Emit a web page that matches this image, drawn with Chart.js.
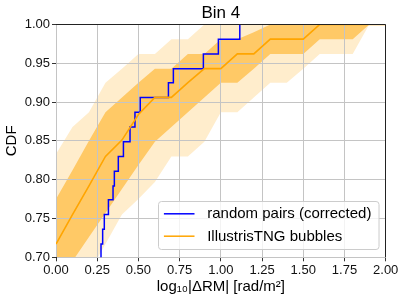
<!DOCTYPE html>
<html>
<head>
<meta charset="utf-8">
<script src="https://cdn.jsdelivr.net/npm/chart.js@4.4.1/dist/chart.umd.min.js"></script>
<style>
  html, body { margin: 0; padding: 0; background: #fff; }
  canvas { display: block; }
</style>
</head>
<body>
<canvas id="cdfChart" width="405" height="302"></canvas>
<script>
// log10|dRM| grid that the IllustrisTNG CDF bands are sampled on
const logRM = [0.0, 0.1, 0.2, 0.3, 0.4, 0.5, 0.6, 0.7, 0.8, 0.9, 1.0,
               1.1, 1.2, 1.3, 1.4, 1.5, 1.6, 1.7, 1.8, 1.9, 2.0];
const tngMedian    = [0.717, 0.755, 0.792, 0.830, 0.851, 0.884, 0.906, 0.906, 0.925, 0.943, 0.943,
                      0.962, 0.962, 0.981, 0.981, 0.981, 1.000, 1.000, 1.000, 1.000, 1.000];
const tngInnerHigh = [0.775, 0.812, 0.850, 0.887, 0.906, 0.925, 0.943, 0.943, 0.962, 0.962, 0.981,
                      0.981, 0.990, 1.000, 1.000, 1.000, 1.000, 1.000, 1.000, 1.000, 1.000];
const tngInnerLow  = [0.664, 0.695, 0.726, 0.757, 0.788, 0.819, 0.849, 0.868, 0.887, 0.906, 0.925,
                      0.925, 0.943, 0.962, 0.962, 0.962, 0.981, 0.981, 0.981, 1.000, 1.000];
const tngOuterHigh = [0.833, 0.868, 0.887, 0.925, 0.943, 0.962, 0.962, 0.981, 0.981, 1.000, 1.000,
                      1.000, 1.000, 1.000, 1.000, 1.000, 1.000, 1.000, 1.000, 1.000, 1.000];
const tngOuterLow  = [0.600, 0.640, 0.680, 0.717, 0.755, 0.775, 0.797, 0.830, 0.830, 0.849, 0.887,
                      0.887, 0.906, 0.925, 0.925, 0.943, 0.962, 0.962, 0.962, 1.000, 1.000];

// random pairs: where the empirical CDF jumps, and its value after the jump
const pairsRM  = [0.273, 0.273, 0.283, 0.293, 0.318, 0.346, 0.354, 0.378, 0.409, 0.449, 0.479,
                  0.511, 0.682, 0.712, 0.894, 0.985, 1.115];
const pairsCDF = [0.680, 0.717, 0.736, 0.755, 0.774, 0.792, 0.811, 0.830, 0.849, 0.868, 0.887,
                  0.906, 0.925, 0.943, 0.962, 0.981, 1.000];

const xTicks = [0, 0.25, 0.5, 0.75, 1.0, 1.25, 1.5, 1.75, 2.0];
const yTicks = [0.70, 0.75, 0.80, 0.85, 0.90, 0.95, 1.00];

const FONT = "'Liberation Sans', Arial, Helvetica, sans-serif";
Chart.defaults.font.family = FONT;
Chart.defaults.color = '#000';

const toPoints = (xs, ys) => xs.map((x, i) => ({x: x, y: ys[i]}));

const band = (ys, fill, colour) => ({
  label: '',
  data: toPoints(logRM, ys),
  borderWidth: 0,
  borderColor: 'rgba(0,0,0,0)',
  backgroundColor: colour,
  pointRadius: 0,
  fill: fill
});

// gridlines sit above the shaded bands but under the curves, as in matplotlib.
// the normal pass only draws tick marks; the lines are drawn here once.
const gridOverBands = {
  id: 'gridOverBands',
  afterDatasetDraw(chart, args) {
    if (args.index !== 2) return;
    ['x', 'y'].forEach(id => {
      const s = chart.scales[id];
      if (!s || typeof s.drawGrid !== 'function') return;
      const g = s.options.grid;
      g.drawOnChartArea = true;
      g.drawTicks = false;
      s.drawGrid(chart.chartArea);
      g.drawOnChartArea = false;
      g.drawTicks = true;
    });
  }
};

const frameAndLegend = {
  id: 'frameAndLegend',
  afterDraw(chart) {
    const {ctx, chartArea} = chart;
    ctx.save();
    // top and right spines
    const r = Math.round(chartArea.right) - 0.5;
    const t = Math.round(chartArea.top) + 0.5;
    ctx.strokeStyle = '#222';
    ctx.lineWidth = 1;
    ctx.beginPath();
    ctx.moveTo(Math.round(chartArea.left), t);
    ctx.lineTo(r, t);
    ctx.lineTo(r, Math.round(chartArea.bottom));
    ctx.stroke();

    // legend in the lower right corner
    const items = [chart.data.datasets[1], chart.data.datasets[0]];
    ctx.font = '15px ' + FONT;
    const textW = Math.max(...items.map(d => ctx.measureText(d.label).width));
    const w = 48.7 + textW + 7.6, h = 48;
    const x = Math.round(chartArea.right - 7.4 - w) + 0.5;
    const y = Math.round(chartArea.bottom - 8.3 - h) + 0.5;
    ctx.beginPath();
    ctx.roundRect(x, y, w, h, 3);
    ctx.fillStyle = 'rgba(255,255,255,0.8)';
    ctx.fill();
    ctx.strokeStyle = '#cccccc';
    ctx.stroke();
    items.forEach((d, i) => {
      const cy = y + 12.3 + i * 22.4;
      ctx.strokeStyle = d.borderColor;
      ctx.lineWidth = 1.5;
      ctx.beginPath();
      ctx.moveTo(x + 5.4, cy);
      ctx.lineTo(x + 36, cy);
      ctx.stroke();
      ctx.fillStyle = '#000';
      ctx.textBaseline = 'middle';
      ctx.textAlign = 'left';
      ctx.fillText(d.label, x + 48.7, cy + 0.5);
    });
    ctx.restore();
  }
};

const ctx = document.getElementById('cdfChart').getContext('2d');

new Chart(ctx, {
  type: 'line',
  data: {
    datasets: [
      {
        label: 'IllustrisTNG bubbles',
        data: toPoints(logRM, tngMedian),
        borderColor: '#ffa500',
        borderWidth: 1.6,
        pointRadius: 0,
        fill: false
      },
      {
        label: 'random pairs (corrected)',
        data: toPoints(pairsRM, pairsCDF),
        borderColor: '#0000ff',
        borderWidth: 1.5,
        stepped: 'before',
        pointRadius: 0,
        fill: false
      },
      band(tngInnerHigh, 3, 'rgba(255,165,0,0.5)'),
      band(tngInnerLow, false, 'rgba(0,0,0,0)'),
      band(tngOuterHigh, 5, 'rgba(255,165,0,0.2)'),
      band(tngOuterLow, false, 'rgba(0,0,0,0)')
    ]
  },
  options: {
    responsive: false,
    animation: false,
    devicePixelRatio: 1,
    layout: { padding: { left: 0, right: 19.3, top: 0, bottom: 0 } },
    plugins: {
      legend: { display: false },
      tooltip: { enabled: false },
      title: {
        display: true,
        text: 'Bin 4',
        fullSize: false,
        color: '#000',
        font: { size: 17, weight: 'normal' },
        padding: { top: 3, bottom: 1 }
      }
    },
    scales: {
      x: {
        type: 'linear',
        min: 0,
        max: 2,
        afterBuildTicks: s => { s.ticks = xTicks.map(v => ({value: v})); },
        afterFit: s => { s.height = 44.7; },
        ticks: {
          callback: v => Number(v).toFixed(2),
          font: { size: 13 },
          color: '#111',
          padding: 1,
          maxRotation: 0
        },
        grid: {
          color: '#c4c4c4',
          lineWidth: 1,
          drawOnChartArea: false,
          tickColor: '#333',
          tickLength: 4
        },
        border: { color: '#222', width: 1 },
        title: {
          display: true,
          text: 'log\u2081\u2080|\u0394RM| [rad/m\u00b2]',
          font: { size: 15 },
          color: '#000',
          padding: { top: 0, bottom: 6 }
        }
      },
      y: {
        min: 0.70,
        max: 1.00,
        afterBuildTicks: s => { s.ticks = yTicks.map(v => ({value: v})); },
        afterFit: s => { s.width = 56; },
        ticks: {
          callback: v => Number(v).toFixed(2),
          font: { size: 13 },
          color: '#111',
          padding: 2
        },
        grid: {
          color: '#c4c4c4',
          lineWidth: 1,
          drawOnChartArea: false,
          tickColor: '#333',
          tickLength: 4
        },
        border: { color: '#222', width: 1 },
        title: {
          display: true,
          text: 'CDF',
          font: { size: 15 },
          color: '#000',
          padding: { top: 3, bottom: 0 }
        }
      }
    }
  },
  plugins: [gridOverBands, frameAndLegend]
});
</script>
</body>
</html>
